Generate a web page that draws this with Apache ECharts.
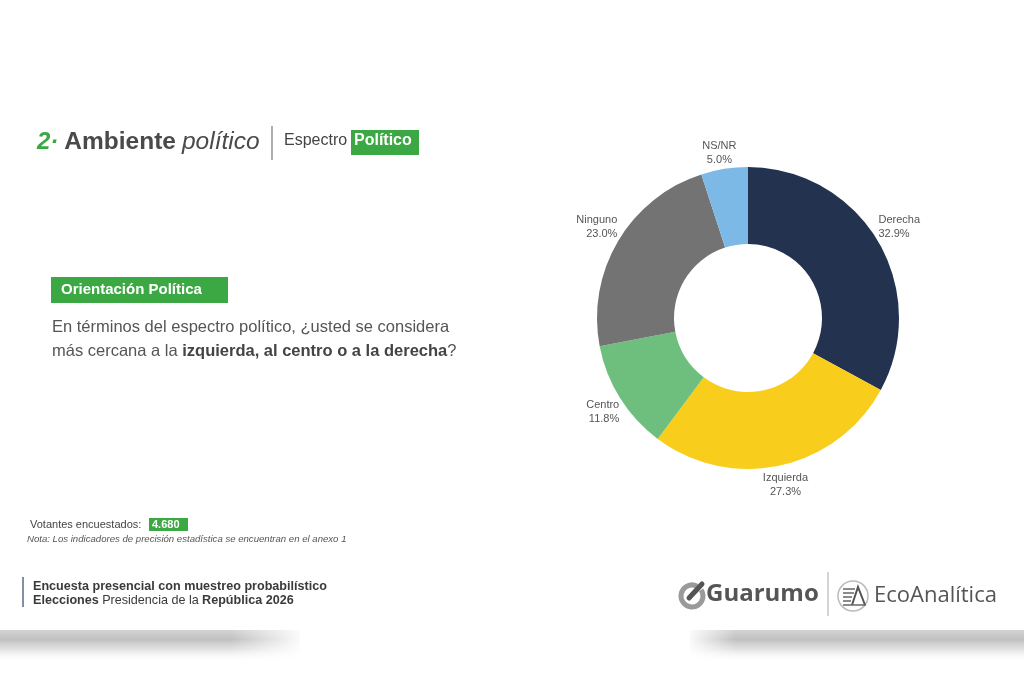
<!DOCTYPE html>
<html>
<head>
<meta charset="utf-8">
<script src="https://cdn.jsdelivr.net/npm/echarts@6/dist/echarts.min.js"></script>
<style>
html,body{margin:0;padding:0;background:#fff;}
#chart{width:1024px;height:683px;}
</style>
</head>
<body>
<div id="chart"></div>
<script>
// ---- data ----
const categories = ['Derecha', 'Izquierda', 'Centro', 'Ninguno', 'NS/NR'];
const values = [32.9, 27.3, 11.8, 23.0, 5.0];
const colors = ['#22324f', '#f8cd1b', '#6ebf7e', '#737373', '#7db9e6'];
const sampleSize = '4.680';

const GREEN = '#3ca843';
const TXT = '#555555';
const FONT = '"Liberation Sans", Arial, sans-serif';

const chart = echarts.init(document.getElementById('chart'), null, {renderer: 'canvas'});

// mid-angle (clockwise from top) of each slice, derived from the data
const total = values.reduce((a, b) => a + b, 0);
const midAngles = [];
{
  let acc = 0;
  values.forEach(v => { midAngles.push((acc + v / 2) / total * 2 * Math.PI); acc += v; });
}

const vFade = {type: 'linear', x: 0, y: 0, x2: 0, y2: 1, colorStops: [
  {offset: 0, color: 'rgba(200,200,200,0.8)'},
  {offset: 0.3, color: 'rgba(185,185,185,0.9)'},
  {offset: 0.6, color: 'rgba(205,205,205,0.6)'},
  {offset: 1, color: 'rgba(255,255,255,0)'}
]};

const graphics = [
  // Title
  {type: 'text', left: 37, top: 130, style: {
    text: '{n|2·}{s| }{a|Ambiente}{s| }{p|político}',
    rich: {
      n: {fontFamily: FONT, fontSize: 24, fontWeight: 'bold', fontStyle: 'italic', fill: GREEN},
      s: {fontFamily: FONT, fontSize: 24, width: 6},
      a: {fontFamily: FONT, fontSize: 24.5, fontWeight: 'bold', fill: '#4a4a4a'},
      p: {fontFamily: FONT, fontSize: 24.5, fontStyle: 'italic', fill: '#4a4a4a'}
    }
  }},
  {type: 'line', shape: {x1: 272, y1: 126, x2: 272, y2: 160}, style: {stroke: '#777', lineWidth: 1.2}},
  {type: 'text', left: 284, top: 133, style: {text: 'Espectro', fontFamily: FONT, fontSize: 16, fill: '#444'}},
  {type: 'rect', shape: {x: 351, y: 130, width: 68, height: 25}, style: {fill: GREEN}},
  {type: 'text', left: 354, top: 133, style: {text: 'Político', fontFamily: FONT, fontSize: 16, fontWeight: 'bold', fill: '#fff'}},

  // Section tag
  {type: 'rect', shape: {x: 51, y: 277, width: 177, height: 26}, style: {fill: GREEN}},
  {type: 'text', left: 61, top: 282, style: {text: 'Orientación Política', fontFamily: FONT, fontSize: 15, fontWeight: 'bold', fill: '#fff'}},

  // Question
  {type: 'text', left: 52, top: 319, style: {text: 'En términos del espectro político, ¿usted se considera', fontFamily: FONT, fontSize: 16.5, fill: TXT}},
  {type: 'text', left: 52, top: 343, style: {
    text: '{r|más cercana a la }{b|izquierda, al centro o a la derecha}{r|?}',
    rich: {
      r: {fontFamily: FONT, fontSize: 16.5, fill: TXT},
      b: {fontFamily: FONT, fontSize: 16.5, fontWeight: 'bold', fill: '#444'}
    }
  }},

  // Sample size
  {type: 'text', left: 30, top: 519, style: {text: 'Votantes encuestados:', fontFamily: FONT, fontSize: 11, fill: '#444'}},
  {type: 'rect', shape: {x: 149, y: 518, width: 39, height: 13}, style: {fill: GREEN}},
  {type: 'text', left: 152, top: 519, style: {text: sampleSize, fontFamily: FONT, fontSize: 11, fontWeight: 'bold', fill: '#fff'}},
  {type: 'text', left: 27, top: 534, style: {text: 'Nota: Los indicadores de precisión estadística se encuentran en el anexo 1', fontFamily: FONT, fontSize: 9.6, fontStyle: 'italic', fill: '#555'}},

  // Footer
  {type: 'line', shape: {x1: 23, y1: 577, x2: 23, y2: 607}, style: {stroke: '#5a6a8a', lineWidth: 1.5}},
  {type: 'text', left: 33, top: 580, style: {text: 'Encuesta presencial con muestreo probabilístico', fontFamily: FONT, fontSize: 12.6, fontWeight: 'bold', fill: '#3a3a3a'}},
  {type: 'text', left: 33, top: 594, style: {
    text: '{b|Elecciones} {r|Presidencia de la} {b|República 2026}',
    rich: {
      b: {fontFamily: FONT, fontSize: 12.6, fontWeight: 'bold', fill: '#3a3a3a'},
      r: {fontFamily: FONT, fontSize: 12.6, fill: '#3a3a3a'}
    }
  }},

  // Guarumo logo
  {type: 'arc', shape: {cx: 692, cy: 596, r: 11, startAngle: -0.6, endAngle: 5.2}, style: {stroke: '#9a9a9a', lineWidth: 5, fill: null}},
  {type: 'line', shape: {x1: 689, y1: 598, x2: 702, y2: 584}, style: {stroke: '#555', lineWidth: 5, lineCap: 'round'}},
  {type: 'text', left: 706, top: 582, style: {text: 'Guarumo', fontFamily: '"Open Sans", sans-serif', fontSize: 24, fontWeight: 'bold', fill: '#555'}},
  {type: 'line', shape: {x1: 828, y1: 572, x2: 828, y2: 616}, style: {stroke: '#aaa', lineWidth: 1}},
  // EcoAnalitica logo
  {type: 'circle', shape: {cx: 853, cy: 596, r: 15}, style: {stroke: '#bbb', lineWidth: 1.5, fill: '#fff'}},
  {type: 'polyline', shape: {points: [[852, 605], [858, 587], [865, 605]]}, style: {stroke: '#555', lineWidth: 2, fill: null}},
  {type: 'line', shape: {x1: 843, y1: 589, x2: 855, y2: 589}, style: {stroke: '#666', lineWidth: 1.5}},
  {type: 'line', shape: {x1: 843, y1: 593, x2: 854, y2: 593}, style: {stroke: '#666', lineWidth: 1.5}},
  {type: 'line', shape: {x1: 843, y1: 597, x2: 852, y2: 597}, style: {stroke: '#666', lineWidth: 1.5}},
  {type: 'line', shape: {x1: 843, y1: 601, x2: 851, y2: 601}, style: {stroke: '#666', lineWidth: 1.5}},
  {type: 'line', shape: {x1: 843, y1: 605, x2: 866, y2: 605}, style: {stroke: '#666', lineWidth: 1.5}},
  {type: 'text', left: 874, top: 585, style: {text: 'EcoAnalítica', fontFamily: '"Open Sans", sans-serif', fontSize: 22, fill: '#555'}},

  // Blurred bottom bands
  {type: 'rect', shape: {x: 0, y: 630, width: 300, height: 32}, style: {fill: vFade}},
  {type: 'rect', shape: {x: 230, y: 627, width: 75, height: 38}, style: {fill: {type: 'linear', x: 0, y: 0, x2: 1, y2: 0, colorStops: [
    {offset: 0, color: 'rgba(255,255,255,0)'}, {offset: 1, color: 'rgba(255,255,255,1)'}]}}},
  {type: 'rect', shape: {x: 690, y: 630, width: 334, height: 32}, style: {fill: vFade}},
  {type: 'rect', shape: {x: 686, y: 627, width: 50, height: 38}, style: {fill: {type: 'linear', x: 0, y: 0, x2: 1, y2: 0, colorStops: [
    {offset: 0, color: 'rgba(255,255,255,1)'}, {offset: 1, color: 'rgba(255,255,255,0)'}]}}}
];

const option = {
  backgroundColor: '#ffffff',
  animation: false,
  color: colors,
  graphic: graphics,
  series: [{
    type: 'pie',
    center: [748, 318],
    radius: [74, 151],
    startAngle: 90,
    clockwise: true,
    avoidLabelOverlap: false,
    data: categories.map((c, i) => ({name: c, value: values[i]})),
    label: {
      show: true,
      position: 'outside',
      formatter: p => p.name + '\n' + p.value.toFixed(1) + '%',
      color: TXT,
      fontFamily: FONT,
      fontSize: 11,
      lineHeight: 14
    },
    labelLine: {show: false, length: 0, length2: 0},
    labelLayout: function (params) {
      const a = midAngles[params.dataIndex];
      const sx = Math.sin(a), cy = -Math.cos(a);
      const centered = Math.abs(sx) < 0.5;
      return {
        align: centered ? 'center' : (sx > 0 ? 'left' : 'right'),
        verticalAlign: cy < 0 ? 'bottom' : 'top',
        dx: centered ? 0 : -sx * 5,
        dy: centered ? (cy > 0 ? 6 : -2) : 0
      };
    },
    itemStyle: {borderWidth: 0}
  }]
};
chart.setOption(option);
</script>
</body>
</html>
